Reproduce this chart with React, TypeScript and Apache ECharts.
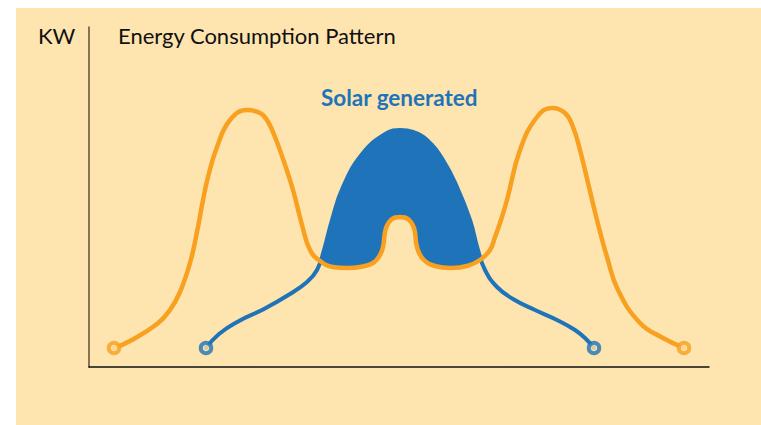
import React, { useEffect, useRef } from "react";
import * as echarts from "echarts";

// Energy demand (orange) and solar generation (blue); x = time offset, y = kW (arbitrary units)
const demandX = [25, 41, 68, 81, 91, 101, 108, 114, 119, 128, 141, 158, 171, 178, 186, 194, 204, 213, 221, 231, 244, 258, 271, 284, 291, 294, 297, 303, 311, 319, 325, 328, 334, 346, 362, 378, 391, 401, 406, 411, 418, 431, 448, 463, 476, 484, 491, 500, 509, 518, 529, 551, 574, 595];
const demandY = [19, 26, 43, 57, 75, 104, 135, 167, 190, 220, 247, 257, 254, 247, 230, 208, 177, 142, 117, 106, 100, 99, 100, 104, 112, 120, 139, 148, 150, 148, 139, 120, 108, 101, 99, 101, 107, 117, 130, 144, 167, 217, 250, 259, 254, 240, 217, 180, 143, 110, 77, 44, 29, 19];

const solarX = [117, 130, 150, 175, 201, 218, 228, 235, 243, 254, 274, 298, 311, 324, 338, 354, 368, 381, 389, 396, 408, 424, 446, 468, 486, 496, 505];
const solarY = [19, 33, 46, 58, 73, 85, 97, 117, 147, 180, 214, 234, 237, 235, 227, 207, 180, 147, 117, 97, 80, 68, 57, 47, 37, 29, 19];

const titleText = "Energy Consumption Pattern";
const unitText = "KW";
const solarLabel = "Solar generated";

const BG = "#FEE4AE";
const ORANGE = "#F8A01F";
const BLUE = "#1F73B8";

export default function App() {
  const ref = useRef<HTMLDivElement>(null);
  useEffect(() => {
    document.body.style.margin = "0";
    const chart = echarts.init(ref.current!, null, { renderer: "svg" });
    const demand = demandX.map((x, i) => [x, demandY[i]]);
    const solar = solarX.map((x, i) => [x, solarY[i]]);
    const smooth = 0.45;
    const ends = (d: number[][]) => [d[0], d[d.length - 1]];
    chart.setOption({
      animation: false,
      backgroundColor: "#ffffff",
      grid: { left: 89, top: 27, right: 52, bottom: 58 },
      xAxis: {
        type: "value",
        min: 0,
        max: 620,
        z: 10,
        axisLine: { show: true, onZero: false, lineStyle: { color: "#111111", width: 1.5 } },
        axisTick: { show: false },
        axisLabel: { show: false },
        splitLine: { show: false },
      },
      yAxis: {
        type: "value",
        min: 0,
        max: 340,
        z: 10,
        axisLine: { show: true, lineStyle: { color: "#5e4c36", width: 1.5 } },
        axisTick: { show: false },
        axisLabel: { show: false },
        splitLine: { show: false },
      },
      graphic: [
        {
          type: "rect",
          z: -100,
          silent: true,
          shape: { x: 16, y: 8, width: 745, height: 417 },
          style: { fill: BG },
        },
        {
          type: "text",
          left: 38,
          top: 24,
          z: 100,
          style: { text: unitText, fill: "#111111", font: "22px Lato" },
        },
        {
          type: "text",
          left: 118,
          top: 24,
          z: 100,
          style: { text: titleText, fill: "#111111", font: "22px Lato" },
        },
        {
          type: "text",
          left: 321,
          top: 86,
          z: 100,
          style: { text: solarLabel, fill: BLUE, font: "bold 22.5px Lato" },
        },
      ],
      series: [
        {
          type: "line",
          data: solar,
          smooth,
          symbol: "none",
          lineStyle: { width: 0 },
          areaStyle: { color: BLUE, opacity: 1 },
          z: 1,
        },
        {
          type: "line",
          data: demand,
          smooth,
          symbol: "none",
          lineStyle: { width: 0 },
          areaStyle: { color: BG, opacity: 1 },
          z: 2,
        },
        {
          type: "line",
          data: solar,
          smooth,
          symbol: "none",
          lineStyle: { width: 4, color: BLUE, cap: "round" },
          z: 3,
        },
        {
          type: "line",
          data: demand,
          smooth,
          symbol: "none",
          lineStyle: { width: 4.5, color: ORANGE, cap: "round" },
          z: 4,
        },
        {
          type: "scatter",
          data: ends(solar),
          symbol: "circle",
          symbolSize: 10.5,
          itemStyle: { color: BG, borderColor: BLUE, borderWidth: 4 },
          z: 5,
        },
        {
          type: "scatter",
          data: ends(demand),
          symbol: "circle",
          symbolSize: 10.5,
          itemStyle: { color: BG, borderColor: ORANGE, borderWidth: 4 },
          z: 5,
        },
      ],
    });
    return () => chart.dispose();
  }, []);
  return <div ref={ref} style={{ width: 761, height: 425 }} />;
}
